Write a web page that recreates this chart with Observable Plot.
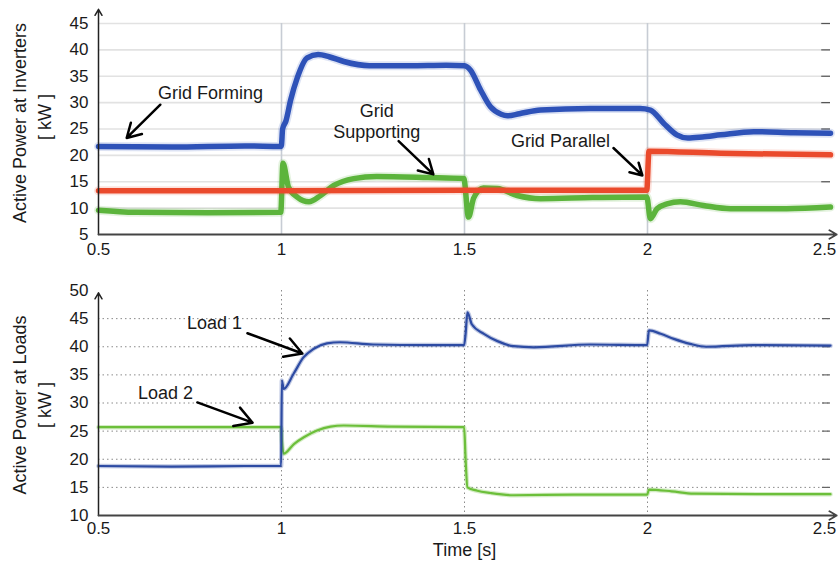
<!DOCTYPE html>
<html><head><meta charset="utf-8">
<script src="https://cdn.jsdelivr.net/npm/d3@7"></script>
<script src="https://cdn.jsdelivr.net/npm/@observablehq/plot@0.6"></script>
<style>
body{margin:0;background:#fff;}
#chart{width:840px;height:567px;position:relative;font-family:"Liberation Sans",Arial,sans-serif;}
#chart svg{display:block;overflow:visible;}
</style></head><body><div id="chart"></div>
<script>
// ---- tick values ----
const timeTicks = [0.5, 1, 1.5, 2];
const timeLastTick = [2.5];
const inverterTicks = [5, 10, 15, 20, 25, 30, 35, 40, 45];
const loadTicks = [10, 15, 20, 25, 30, 35, 40, 45, 50];

// ---- inverter active power (kW) ----
const gridFormingT = [0.5, 0.7, 0.9, 0.998, 1.0, 1.003, 1.012, 1.025, 1.043, 1.07, 1.1, 1.13, 1.17, 1.24, 1.35, 1.45, 1.5, 1.516, 1.544, 1.571, 1.6, 1.617, 1.65, 1.708, 1.844, 1.98, 2.008, 2.044, 2.08, 2.11, 2.15, 2.2, 2.29, 2.4, 2.5];
const gridFormingP = [21.7, 21.6, 21.8, 21.7, 22.0, 25.0, 26.5, 30.5, 34.7, 38.5, 39.1, 38.7, 37.8, 37.0, 37.0, 37.1, 37.0, 36.2, 32.4, 29.2, 27.8, 27.5, 27.9, 28.6, 28.9, 28.9, 28.6, 26.1, 23.9, 23.3, 23.5, 23.9, 24.5, 24.3, 24.2];

const gridSupportingT = [0.5, 0.6, 0.8, 0.998, 1.004, 1.019, 1.043, 1.075, 1.107, 1.143, 1.197, 1.26, 1.4, 1.498, 1.511, 1.525, 1.552, 1.59, 1.644, 1.708, 1.85, 1.998, 2.008, 2.026, 2.053, 2.09, 2.153, 2.227, 2.38, 2.5];
const gridSupportingP = [9.6, 9.2, 9.1, 9.2, 18.5, 14.0, 12.1, 11.2, 12.4, 14.3, 15.6, 16.0, 15.8, 15.6, 8.3, 11.9, 13.8, 13.7, 12.4, 11.8, 12.0, 12.1, 8.0, 9.9, 10.8, 11.2, 10.5, 9.9, 9.9, 10.2];

const gridParallelT = [0.5, 1.0, 1.5, 1.998, 2.004, 2.2, 2.5];
const gridParallelP = [13.3, 13.3, 13.4, 13.4, 20.8, 20.4, 20.1];

// ---- load active power (kW) ----
const load1T = [0.5, 0.7, 0.9, 0.999, 1.001, 1.006, 1.033, 1.06, 1.087, 1.124, 1.16, 1.25, 1.4, 1.499, 1.503, 1.508, 1.52, 1.553, 1.59, 1.634, 1.69, 1.844, 1.999, 2.004, 2.036, 2.072, 2.117, 2.16, 2.29, 2.5];
const load1P = [18.8, 18.7, 18.8, 18.8, 34.0, 32.5, 35.2, 38.1, 39.6, 40.6, 40.8, 40.4, 40.3, 40.3, 42.3, 46.1, 44.0, 42.3, 41.0, 40.1, 39.9, 40.4, 40.3, 42.9, 42.3, 41.4, 40.5, 40.0, 40.3, 40.2];

const load2T = [0.5, 0.999, 1.001, 1.006, 1.034, 1.061, 1.097, 1.134, 1.17, 1.3, 1.499, 1.503, 1.508, 1.535, 1.571, 1.634, 1.8, 1.999, 2.004, 2.066, 2.126, 2.3, 2.5];
const load2P = [25.7, 25.7, 23.3, 21.0, 22.7, 23.9, 25.1, 25.8, 26.0, 25.8, 25.7, 20.0, 15.0, 14.4, 14.0, 13.6, 13.7, 13.7, 14.6, 14.3, 13.9, 13.8, 13.8];

const rows = (ts, vs) => ts.map((t, i) => ({t, p: vs[i]}));

const FONT = "'Liberation Sans', Arial, sans-serif";
const blueTop = "#2e52b8", redTop = "#ea4a2c", greenTop = "#5cb43c";
const blueBot = "#2d4ba3", greenBot = "#6cbf3a";
const TICK = 17, NOTE = 18, TITLE = 18;

function thickLine(data, color) {
  return [
    Plot.line(data, {x: "t", y: "p", stroke: color, strokeWidth: 9, strokeOpacity: 0.16, curve: "monotone-x"}),
    Plot.line(data, {x: "t", y: "p", stroke: color, strokeWidth: 5.5, curve: "monotone-x"})
  ];
}
function thinLine(data, color) {
  return [
    Plot.line(data, {x: "t", y: "p", stroke: color, strokeWidth: 4.5, strokeOpacity: 0.3, curve: "monotone-x"}),
    Plot.line(data, {x: "t", y: "p", stroke: color, strokeWidth: 2.2, curve: "monotone-x"})
  ];
}
function xAxes(pad) {
  return [
    Plot.axisX({ticks: timeTicks, tickSize: 0, tickPadding: pad, label: null, fontSize: TICK, tickFormat: d => String(d)}),
    Plot.axisX({ticks: timeLastTick, tickSize: 0, tickPadding: pad, label: null, fontSize: TICK, dx: -6, tickFormat: d => String(d)})
  ];
}

const topPlot = Plot.plot({
  width: 840, height: 260,
  marginLeft: 98, marginRight: 10, marginTop: 23, marginBottom: 26,
  x: {domain: [0.5, 2.5]},
  y: {domain: [5, 45]},
  style: {fontFamily: FONT, fontSize: TICK + "px", color: "#1a1a1a", background: "white", overflow: "visible"},
  marks: [
    Plot.ruleY(inverterTicks.slice(1), {stroke: "#e2e2e2", strokeWidth: 1.6}),
    Plot.ruleX([1, 1.5, 2], {stroke: "#c7ccd4", strokeWidth: 1.6}),
    Plot.ruleY(inverterTicks.slice(1), {x1: () => 2.476, x2: () => 2.5, stroke: "#555", strokeWidth: 1.2}),
    ...thickLine(rows(gridFormingT, gridFormingP), blueTop),
    ...thickLine(rows(gridSupportingT, gridSupportingP), greenTop),
    ...thickLine(rows(gridParallelT, gridParallelP), redTop),
    Plot.axisY({ticks: inverterTicks, tickSize: 0, tickPadding: 10, label: null, fontSize: TICK}),
    ...xAxes(8),
    Plot.arrow([0], {x1: () => 0.5, y1: () => 5, x2: () => 0.5, y2: () => 47.7, stroke: "#222", strokeWidth: 1.5, headLength: 7}),
    Plot.arrow([0], {x1: () => 0.5, y1: () => 5, x2: () => 2.517, y2: () => 5, stroke: "#444", strokeWidth: 1.8, headLength: 7}),
    Plot.text(["Active Power at Inverters"], {frameAnchor: "left", dx: -78, dy: -6, rotate: -90, textAnchor: "middle", fontSize: TITLE}),
    Plot.text(["[ kW ]"], {frameAnchor: "left", dx: -53, dy: -12, rotate: -90, textAnchor: "middle", fontSize: TITLE}),
    Plot.text(["Grid Forming"], {x: () => 0.806, y: () => 31.7, fontSize: NOTE, textAnchor: "middle"}),
    Plot.arrow([0], {x1: () => 0.669, y1: () => 29.6, x2: () => 0.577, y2: () => 23.3, stroke: "black", strokeWidth: 2.5, headLength: 12}),
    Plot.text(["Grid"], {x: () => 1.26, y: () => 28.4, fontSize: NOTE, textAnchor: "middle"}),
    Plot.text(["Supporting"], {x: () => 1.26, y: () => 24.4, fontSize: NOTE, textAnchor: "middle"}),
    Plot.arrow([0], {x1: () => 1.32, y1: () => 22.7, x2: () => 1.415, y2: () => 16.4, stroke: "black", strokeWidth: 2.5, headLength: 12}),
    Plot.text(["Grid Parallel"], {x: () => 1.762, y: () => 22.7, fontSize: NOTE, textAnchor: "middle"}),
    Plot.arrow([0], {x1: () => 1.907, y1: () => 21.4, x2: () => 1.986, y2: () => 16.2, stroke: "black", strokeWidth: 2.5, headLength: 12})
  ]
});

const botPlot = Plot.plot({
  width: 840, height: 307,
  marginLeft: 98, marginRight: 10, marginTop: 30, marginBottom: 52,
  x: {domain: [0.5, 2.5]},
  y: {domain: [10, 50]},
  style: {fontFamily: FONT, fontSize: TICK + "px", color: "#1a1a1a", background: "white", overflow: "visible"},
  marks: [
    Plot.ruleY(loadTicks.slice(1, -1), {stroke: "#8a8a8a", strokeWidth: 1, strokeDasharray: "1.5,3"}),
    Plot.ruleX([1, 1.5, 2], {stroke: "#8a8a8a", strokeWidth: 1, strokeDasharray: "1.5,3"}),
    Plot.ruleY(loadTicks.slice(1, -1), {x1: () => 2.478, x2: () => 2.5, stroke: "#666", strokeWidth: 1.2}),
    ...thinLine(rows(load2T, load2P), greenBot),
    ...thinLine(rows(load1T, load1P), blueBot),
    Plot.axisY({ticks: loadTicks, tickSize: 0, tickPadding: 10, label: null, fontSize: TICK}),
    ...xAxes(6),
    Plot.arrow([0], {x1: () => 0.5, y1: () => 10, x2: () => 0.5, y2: () => 49.6, stroke: "#222", strokeWidth: 1.5, headLength: 7}),
    Plot.arrow([0], {x1: () => 0.5, y1: () => 10, x2: () => 2.517, y2: () => 10, stroke: "#444", strokeWidth: 1.8, headLength: 7}),
    Plot.text(["Active Power at Loads"], {frameAnchor: "left", dx: -78, dy: 2, rotate: -90, textAnchor: "middle", fontSize: TITLE}),
    Plot.text(["[ kW ]"], {frameAnchor: "left", dx: -53, dy: 2, rotate: -90, textAnchor: "middle", fontSize: TITLE}),
    Plot.text(["Time [s]"], {frameAnchor: "bottom", dy: 40, fontSize: TITLE, textAnchor: "middle"}),
    Plot.text(["Load 1"], {x: () => 0.817, y: () => 44.1, fontSize: NOTE, textAnchor: "middle"}),
    Plot.arrow([0], {x1: () => 0.907, y1: () => 42.4, x2: () => 1.057, y2: () => 38.8, stroke: "black", strokeWidth: 2.5, headLength: 12}),
    Plot.text(["Load 2"], {x: () => 0.683, y: () => 31.7, fontSize: NOTE, textAnchor: "middle"}),
    Plot.arrow([0], {x1: () => 0.770, y1: () => 30.1, x2: () => 0.921, y2: () => 26.5, stroke: "black", strokeWidth: 2.5, headLength: 12})
  ]
});

const root = document.getElementById("chart");
root.appendChild(topPlot);
root.appendChild(botPlot);
</script>
</body></html>
